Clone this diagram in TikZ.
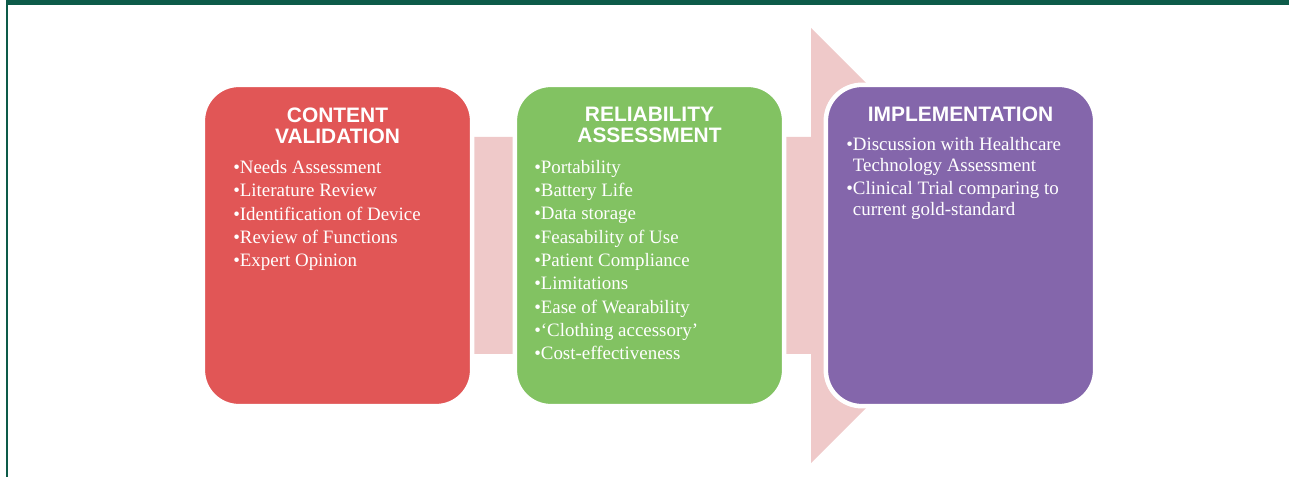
\documentclass[tikz,border=0pt]{standalone}
\usepackage{fontspec}
\setmainfont{Liberation Serif}
\setsansfont{Liberation Sans}

\definecolor{framegreen}{HTML}{0D5B49}
\definecolor{cvred}{HTML}{E15656}
\definecolor{ragreen}{HTML}{82C262}
\definecolor{impurple}{HTML}{8466AB}
\definecolor{arrowpink}{HTML}{EFC9C9}

\begin{document}
\begin{tikzpicture}[x=0.75pt,y=-0.75pt,
  stage/.style={draw=white, line width=3.4pt, rounded corners=27pt,
    minimum width=202pt, minimum height=241pt, inner sep=0pt},
  head/.style={anchor=north, align=center, inner sep=0pt, text=white,
    font=\sffamily\bfseries\fontsize{15.7}{15.75}\selectfont},
  items/.style={anchor=north west, align=left, inner sep=0pt, text=white,
    font=\fontsize{14.2}{17.5}\selectfont}]
\useasboundingbox (0,0) rectangle (1289,477);
% frame
\fill[framegreen] (6,0) rectangle (1289,5);
\fill[framegreen] (6,0) rectangle (8,477);
% big arrow behind the stages
\fill[arrowpink] (470,137) -- (811,137) -- (811,28) -- (1028.5,245.5)
  -- (811,463) -- (811,354) -- (470,354) -- cycle;
% stages
\node[stage, fill=cvred] (cv) at (337.5,245.5) {};
\node[stage, fill=ragreen] (ra) at (649.5,245.5) {};
\node[stage, fill=impurple] (im) at (960.5,245.5) {};
% headings
\node[head] (cvh) at (337.5,107.3) {CONTENT\\VALIDATION};
\node[head] (rah) at (649.5,107.3) {RELIABILITY\\ASSESSMENT};
\node[head] (imh) at (960.5,106.7) {IMPLEMENTATION};
% bullet lists
\node[items] (cvl) at (233,160.2) {\textbullet Needs Assessment\\
  \textbullet Literature Review\\
  \textbullet Identification of Device\\
  \textbullet Review of Functions\\
  \textbullet Expert Opinion};
\node[items] (ral) at (534,159.8) {\textbullet Portability\\
  \textbullet Battery Life\\
  \textbullet Data storage\\
  \textbullet Feasability of Use\\
  \textbullet Patient Compliance\\
  \textbullet Limitations\\
  \textbullet Ease of Wearability\\
  \textbullet ‘Clothing accessory’\\
  \textbullet Cost-effectiveness};
\node[items, font=\fontsize{14.2}{15.5}\selectfont] (iml) at (846,137) {\textbullet Discussion with Healthcare\\
  \hphantom{\textbullet}Technology Assessment\\[2pt]
  \textbullet Clinical Trial comparing to\\
  \hphantom{\textbullet}current gold-standard};
\end{tikzpicture}
\end{document}
